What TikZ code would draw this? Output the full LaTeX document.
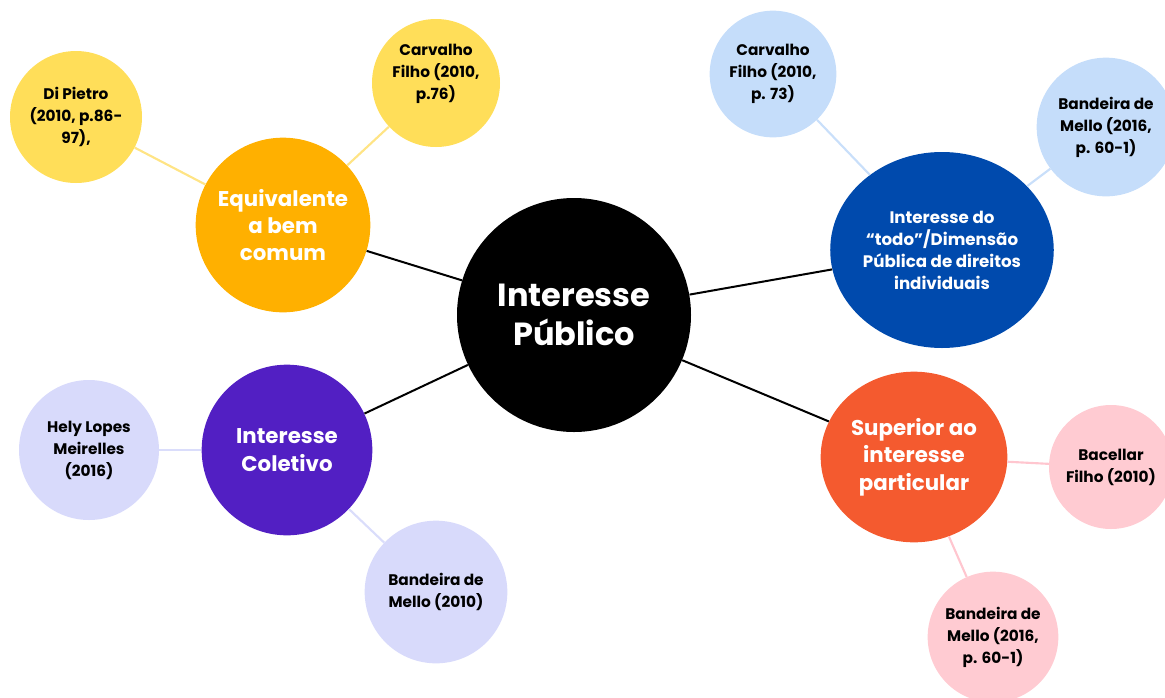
\documentclass[tikz,border=0pt]{standalone}
\usepackage{fontspec}
\setmainfont{Poppins}
\usetikzlibrary{shapes.geometric}

\definecolor{amber}{HTML}{FFB000}
\definecolor{lemon}{HTML}{FFDE59}
\definecolor{lemonline}{HTML}{FFE485}
\definecolor{royal}{HTML}{004AAD}
\definecolor{sky}{HTML}{C5DDFA}
\definecolor{skyline}{HTML}{C9DFFA}
\definecolor{violet}{HTML}{521FC3}
\definecolor{lavender}{HTML}{D8DAFB}
\definecolor{lavline}{HTML}{DADDFB}
\definecolor{coral}{HTML}{F45A2F}
\definecolor{blush}{HTML}{FFCBD2}
\definecolor{blushline}{HTML}{FFC6CF}

\tikzset{
  hub/.style={circle,fill=black,text=white,align=center,inner sep=0pt,
    minimum size=175.5pt,font=\fontsize{24}{29}\selectfont\bfseries},
  topic/.style={circle,text=white,align=center,inner sep=0pt,
    font=\fontsize{16}{20.5}\selectfont\bfseries},
  ref/.style={circle,text=black,align=center,inner sep=0pt,
    font=\fontsize{11.5}{16.5}\selectfont\bfseries},
  spoke/.style={draw=black,line width=1.5pt},
  twig/.style={line width=1.6pt}
}

\begin{document}
\begin{tikzpicture}[x=0.75pt,y=-0.75pt]
\useasboundingbox (0,0) rectangle (1165,697);
\clip (0,0) rectangle (1165,697);

% centre
\node[hub] (pub) at (574,315) {Interesse\\Público};

% four topics round the centre
\node[topic,fill=amber,minimum size=131pt] (bem) at (283,225) {Equivalente\\a bem\\comum};
\node[topic,ellipse,fill=royal,minimum width=158pt,minimum height=147pt,
  font=\fontsize{12.5}{16.5}\selectfont\bfseries] (todo) at (942,250)
  {Interesse do\\“todo”/Dimensão\\Pública de direitos\\individuais};
\node[topic,fill=violet,minimum size=128pt] (col) at (287,450) {Interesse\\Coletivo};
\node[topic,ellipse,fill=coral,minimum width=140pt,minimum height=128pt] (sup) at (914,457)
  {Superior ao\\interesse\\particular};

% references
\node[ref,fill=lemon,minimum size=99pt] (dip) at (76,117) {Di Pietro\\(2010, p.86-\\97),};
\node[ref,fill=lemon,minimum size=96pt] (cfa) at (436,83) {Carvalho\\Filho (2010,\\p.76)\\~};
\node[ref,fill=sky,minimum size=95pt] (cfb) at (773,74) {Carvalho\\Filho (2010,\\p. 73)};
\node[ref,fill=sky,minimum size=104pt] (bma) at (1106,127) {Bandeira de\\Mello (2016,\\p. 60-1)};
\node[ref,fill=lavender,minimum size=105pt] (hly) at (89,450) {Hely Lopes\\Meirelles\\(2016)};
\node[ref,fill=lavender,minimum size=107pt] (bmb) at (436,592) {Bandeira de\\Mello (2010)};
\node[ref,fill=blush,minimum size=93pt] (bac) at (1111,467) {Bacellar\\Filho (2010)};
\node[ref,fill=blush,minimum size=98pt] (bmc) at (993,637) {Bandeira de\\Mello (2016,\\p. 60-1)};

% spokes
\draw[spoke] (pub) -- (bem);
\draw[spoke] (pub) -- (todo);
\draw[spoke] (pub) -- (col);
\draw[spoke] (pub) -- (sup);

% twigs
\draw[twig,lemonline] (bem) -- (dip);
\draw[twig,lemonline] (bem) -- (cfa);
\draw[twig,skyline] (todo) -- (cfb);
\draw[twig,skyline] (todo) -- (bma);
\draw[twig,lavline] (col) -- (hly);
\draw[twig,lavline] (col) -- (bmb);
\draw[twig,blushline] (sup) -- (bac);
\draw[twig,blushline] (sup) -- (bmc);
\end{tikzpicture}
\end{document}
